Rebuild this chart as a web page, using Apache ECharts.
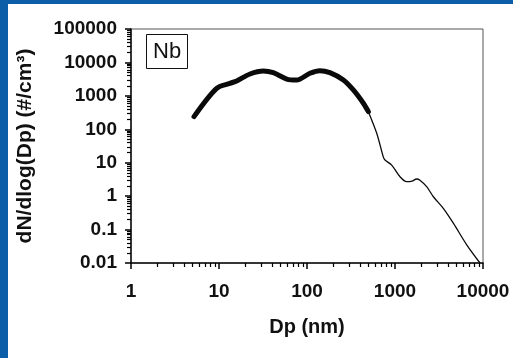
<!DOCTYPE html>
<html>
<head>
<meta charset="utf-8">
<script src="https://cdn.jsdelivr.net/npm/echarts@6/dist/echarts.min.js"></script>
<style>
  html, body { margin: 0; padding: 0; width: 513px; height: 358px; overflow: hidden; background: #0b5ea7; }
  #panel { position: absolute; left: 8px; top: 4px; width: 505px; height: 354px; background: #ffffff; }
  #chart { position: absolute; left: 0; top: 0; width: 513px; height: 358px; }
</style>
</head>
<body>
<div id="panel"></div>
<div id="chart"></div>
<script>
// Thick segment (nucleation/Aitken range), Dp in nm, dN/dlog(Dp) in #/cm3
const thickDp = [5.2, 9.4, 13.3, 15.9, 22.5, 31.9, 41.4, 58.8, 76.3, 108, 140, 182, 259, 336, 437, 498];
const thickN  = [240, 1680, 2370, 2790, 4510, 5540, 4930, 3190, 2980, 4730, 5670, 4930, 2980, 1500, 600, 337];
// Thin segment (coarse range)
const thinDp = [498, 620, 736, 770, 917, 1140, 1360, 1560, 1760, 1920, 2290, 2730, 3540, 4600, 6530, 9250];
const thinN  = [337, 76, 15, 12, 8.5, 3.8, 2.7, 2.8, 3.26, 3.0, 1.92, 0.96, 0.43, 0.155, 0.035, 0.01];

const xTickLabels = ['1', '10', '100', '1000', '10000'];
const yTickLabels = ['0.01', '0.1', '1', '10', '100', '1000', '10000', '100000'];

function labelFor(list, v) {
  for (const s of list) { if (Math.abs(Math.log10(Number(s)) - Math.log10(v)) < 1e-6) return s; }
  return '';
}

const chart = echarts.init(document.getElementById('chart'), null, { renderer: 'canvas' });
const fontFam = 'Liberation Sans, Arial, sans-serif';

chart.setOption({
  backgroundColor: 'transparent',
  animation: false,
  title: {
    text: 'Nb',
    left: 146, top: 34,
    padding: [7, 7, 6, 7],
    borderColor: '#111', borderWidth: 1,
    textStyle: { fontFamily: fontFam, fontSize: 22, fontWeight: 'normal', color: '#111' }
  },
  grid: { left: 131, top: 29, width: 352, height: 234, show: true, borderColor: '#555', borderWidth: 1, outerBoundsMode: 'none', containLabel: false },
  xAxis: {
    type: 'log', logBase: 10, min: 1, max: 10000, interval: 1,
    name: 'Dp (nm)', nameLocation: 'middle', nameGap: 54,
    nameTextStyle: { fontFamily: fontFam, fontSize: 20, fontWeight: 'bold', color: '#111' },
    axisLine: { onZero: false, lineStyle: { color: '#111', width: 1.5 } },
    axisTick: { show: true, length: 6, lineStyle: { color: '#000', width: 1.5 } },
    minorTick: { show: true, splitNumber: 9, length: 4, lineStyle: { color: '#000', width: 1.2 } },
    axisLabel: { margin: 19, fontFamily: fontFam, fontSize: 19, fontWeight: 'bold', color: '#111',
      formatter: v => labelFor(xTickLabels, v) },
    splitLine: { show: false },
    minorSplitLine: { show: false }
  },
  yAxis: {
    type: 'log', logBase: 10, min: 0.01, max: 100000, interval: 1,
    name: 'dN/dlog(Dp) (#/cm³)', nameLocation: 'middle', nameGap: 95,
    nameTextStyle: { fontFamily: fontFam, fontSize: 21, fontWeight: 'bold', color: '#111' },
    axisLine: { onZero: false, lineStyle: { color: '#111', width: 1.5 } },
    axisTick: { show: true, length: 6, lineStyle: { color: '#000', width: 1.5 } },
    minorTick: { show: true, splitNumber: 9, length: 4, lineStyle: { color: '#000', width: 1.2 } },
    axisLabel: { margin: 14, fontFamily: fontFam, fontSize: 19, fontWeight: 'bold', color: '#111',
      formatter: v => labelFor(yTickLabels, v) },
    splitLine: { show: false },
    minorSplitLine: { show: false }
  },
  series: [
    {
      type: 'line',
      data: thickDp.map((d, i) => [d, thickN[i]]),
      showSymbol: false, smooth: 0.3,
      lineStyle: { color: '#0a0a0a', width: 5, cap: 'round', join: 'round' }
    },
    {
      type: 'line',
      data: thinDp.map((d, i) => [d, thinN[i]]),
      showSymbol: false, smooth: 0.3,
      lineStyle: { color: '#0a0a0a', width: 1.3 }
    }
  ]
});
</script>
</body>
</html>
